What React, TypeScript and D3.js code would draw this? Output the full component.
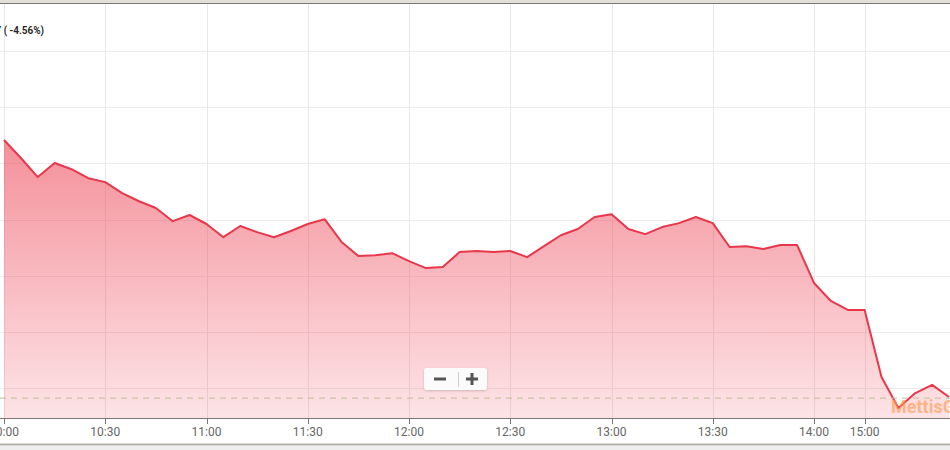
import React from "react";
import * as d3 from "d3";

const times: string[] = [
  "10:00","10:05","10:10","10:15","10:20","10:25","10:30","10:35","10:40","10:45","10:50","10:55",
  "11:00","11:05","11:10","11:15","11:20","11:25","11:30","11:35","11:40","11:45","11:50","11:55",
  "12:00","12:05","12:10","12:15","12:20","12:25","12:30","12:35","12:40","12:45","12:50","12:55",
  "13:00","13:05","13:10","13:15","13:20","13:25","13:30","13:35","13:40","13:45","13:50","13:55",
  "14:00","14:20","14:40","15:00","15:05","15:10","15:15","15:20","15:25",
];

const values: number[] = [
  1968.3, 1961.9, 1955.1, 1960.1, 1957.9, 1954.7, 1953.3, 1949.4, 1946.5, 1944.1, 1939.4, 1941.6,
  1938.4, 1933.7, 1937.7, 1935.5, 1933.7, 1935.9, 1938.4, 1940.1, 1932.0, 1927.0, 1927.3, 1928.0,
  1925.2, 1922.7, 1923.1, 1928.4, 1928.8, 1928.4, 1928.8, 1926.6, 1930.5, 1934.4, 1936.6, 1940.9,
  1941.9, 1936.6, 1934.8, 1937.3, 1938.7, 1940.9, 1938.7, 1930.2, 1930.5, 1929.5, 1930.9, 1930.9,
  1917.4, 1911.0, 1907.8, 1907.8, 1883.9, 1872.9, 1878.2, 1881.1, 1876.8,
];

const tickLabels: string[] = ["10:00","10:30","11:00","11:30","12:00","12:30","13:00","13:30","14:00","15:00"];
const yGridValues: number[] = [1880, 1900, 1920, 1940, 1960, 1980, 2000];
const prevClose = 1876.4;
const titleText = "Y ( -4.56%)";
const watermark = "MettisGlobal";

export default function App() {
  const W = 950, H = 450;
  const plotTop = 4, plotBottom = 418;
  const x = d3.scalePoint<string>().domain(times).range([4, 949]);
  const y = d3.scaleLinear().domain([1880, 2000]).range([388, 51]);

  const data = times.map((t, i) => ({ t, v: values[i] }));
  const line = d3.line<{ t: string; v: number }>().x(d => x(d.t)!).y(d => y(d.v));
  const area = d3.area<{ t: string; v: number }>().x(d => x(d.t)!).y0(plotBottom).y1(d => y(d.v));

  return (
    <svg width={W} height={H} style={{ position: "absolute", left: 0, top: 0, background: "#fff" }}
      fontFamily="Roboto, 'Noto Sans', sans-serif">
      <defs>
        <linearGradient id="fillGrad" gradientUnits="userSpaceOnUse" x1="0" y1="130" x2="0" y2={plotBottom}>
          <stop offset="0" stopColor="#ec4050" stopOpacity={0.6} />
          <stop offset="1" stopColor="#f0465a" stopOpacity={0.15} />
        </linearGradient>
        <filter id="shadow" x="-20%" y="-30%" width="140%" height="170%">
          <feDropShadow dx="0" dy="1" stdDeviation="1.2" floodColor="#000" floodOpacity="0.18" />
        </filter>
      </defs>
      {/* top frame */}
      <rect x={0} y={0} width={W} height={3} fill="#e2deda" />
      <line x1={0} x2={W} y1={3.5} y2={3.5} stroke="#7d7874" strokeWidth={1} />
      {/* grid */}
      {yGridValues.map(v => (
        <line key={v} x1={0} x2={W} y1={Math.round(y(v)) + 0.5} y2={Math.round(y(v)) + 0.5} stroke="#ececec" strokeWidth={1} />
      ))}
      {tickLabels.map(t => (
        <line key={t} x1={Math.round(x(t)!) + 0.5} x2={Math.round(x(t)!) + 0.5} y1={plotTop} y2={plotBottom} stroke="#e8e8e8" strokeWidth={1} />
      ))}
      {/* area + line */}
      <path d={area(data)!} fill="url(#fillGrad)" />
      <path d={line(data)!} fill="none" stroke="#e8374b" strokeWidth={2} strokeLinejoin="round" />
      {/* previous close */}
      <line x1={0} x2={W} y1={y(prevClose)} y2={y(prevClose)} stroke="#bdbf93" strokeWidth={1} strokeDasharray="6,5" />
      {/* watermark */}
      <text x={891} y={413} fontSize={18} fontWeight="bold" fill="#ff9a4d" fillOpacity={0.65}>{watermark}</text>
      {/* axis */}
      <line x1={0} x2={W} y1={plotBottom + 0.5} y2={plotBottom + 0.5} stroke="#777" strokeWidth={1} />
      {tickLabels.map(t => (
        <g key={t}>
          <line x1={Math.round(x(t)!) + 0.5} x2={Math.round(x(t)!) + 0.5} y1={plotBottom} y2={plotBottom + 6} stroke="#777" />
          <text x={x(t)} y={436} textAnchor="middle" fontSize={12} fill="#666">{t}</text>
        </g>
      ))}
      {/* bottom frame */}
      <rect x={0} y={446} width={W} height={4} fill="#eeeeee" />
      <line x1={0} x2={W} y1={444.5} y2={444.5} stroke="#b3afab" strokeWidth={2} />
      {/* title */}
      <text x={-5} y={34} fontSize={10} fontWeight={600} fill="#222">{titleText}</text>
      {/* zoom buttons */}
      <g filter="url(#shadow)">
        <rect x={424} y={368} width={63} height={22} rx={3} fill="#fbfbfb" />
      </g>
      <line x1={458.5} x2={458.5} y1={372} y2={387} stroke="#cccccc" />
      <rect x={434} y={377.5} width={12} height={3} fill="#555" />
      <rect x={466} y={377.5} width={12} height={3} fill="#555" />
      <rect x={470.5} y={373} width={3} height={12} fill="#555" />
    </svg>
  );
}
